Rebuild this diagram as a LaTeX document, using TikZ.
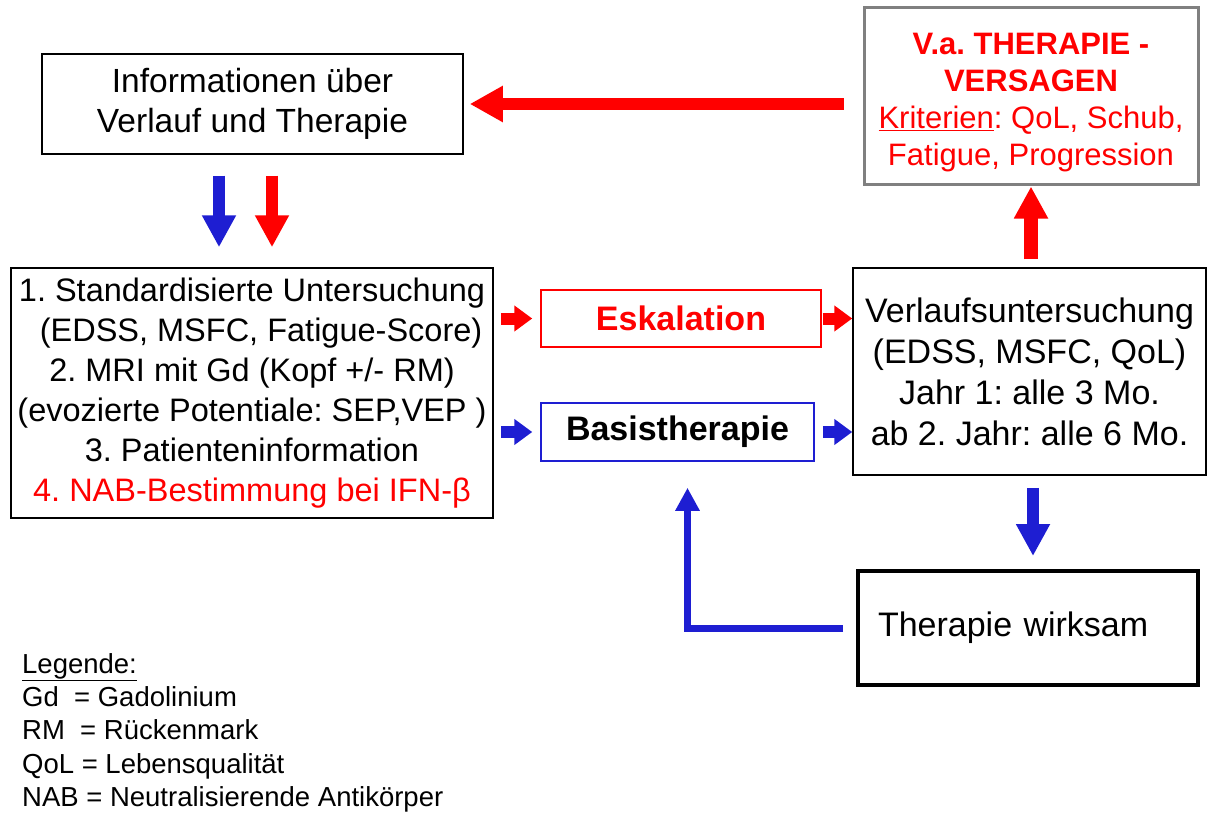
\documentclass[tikz,border=0pt]{standalone}
\usepackage{fontspec}
\setmainfont{Liberation Sans}
\usetikzlibrary{arrows.meta}
\definecolor{rot}{RGB}{255,0,0}
\definecolor{blau}{RGB}{30,30,210}
\definecolor{grau}{RGB}{128,128,128}
\frenchspacing

\begin{document}
\begin{tikzpicture}[x=1pt, y=-1pt,
        kasten/.style={shape=rectangle, draw=black, line width=1.5pt, align=center, inner sep=0pt,
            font=\fontsize{32.5}{40}\selectfont},
        grossrot/.style={draw=rot, line width=12pt, -{Triangle[width=34pt,length=33pt]}},
        runter/.style={line width=12pt, -{Triangle[width=32pt,length=32pt]}},
        klein/.style={line width=12pt, -{Triangle[width=25pt,length=18pt]}},
        haken/.style={draw=blau, line width=7pt, -{Triangle[width=23pt,length=23pt]}},
    ]
    \useasboundingbox (0,0) rectangle (1209,813);

    \node[kasten, minimum width=421pt, minimum height=100pt, font=\fontsize{33.5}{40}\selectfont] (info) at (252.5, 104)
        {Informationen über\\Verlauf und Therapie};
    \node[kasten, draw=grau, line width=3pt, minimum width=334pt, minimum height=177pt,
        font=\fontsize{31}{37}\selectfont, text=rot] (fehl) at (1031, 96.5)
        {\rule{0pt}{33pt}\textbf{V.a. THERAPIE -}\\\textbf{VERSAGEN}\\\underline{Kriterien}: QoL, Schub,\\Fatigue, Progression};
    \node[kasten, minimum width=482pt, minimum height=250pt] (links) at (252, 393)
        {1. Standardisierte Untersuchung\\
        \ \ (EDSS, MSFC, Fatigue-Score)\\
        2. MRI mit Gd (Kopf +/- RM)\\
        (evozierte Potentiale: SEP,VEP )\\
        3. Patienteninformation\\
        \textcolor{rot}{4. NAB-Bestimmung bei IFN-β}};
    \node[kasten, draw=rot, minimum width=280pt, minimum height=57pt, text=rot,
        font=\fontsize{34}{40}\selectfont\bfseries] (eskal) at (681, 318.5) {Eskalation};
    \node[kasten, draw=blau, minimum width=273pt, minimum height=58pt,
        font=\fontsize{34}{40}\selectfont\bfseries] (basis) at (677.5, 432) {Basistherapie};
    \node[kasten, minimum width=353pt, minimum height=207pt, font=\fontsize{34}{41}\selectfont] (verlauf) at (1029.5, 371.5)
        {Verlaufsuntersuchung\\(EDSS, MSFC, QoL)\\Jahr 1: alle 3 Mo.\\ab 2. Jahr: alle 6 Mo.};
    \node[kasten, line width=4pt, minimum width=340pt, minimum height=114pt, align=left,
        text width=300pt, inner xsep=20pt, font=\fontsize{34}{40}\selectfont] (wirksam) at (1028, 628) {Therapie wirksam};
    \node[anchor=north west, align=left, inner sep=0pt, font=\fontsize{27.5}{33.3}\selectfont] (legende) at (22, 653)
        {\underline{Legende:}\\Gd\ \ = Gadolinium\\RM\ \ = Rückenmark\\QoL = Lebensqualität\\NAB = Neutralisierende Antikörper};

    \draw[grossrot, shorten <=19pt, shorten >=6pt] (fehl.west |- info.east) -- (info.east);
    \draw[runter, draw=blau, shorten <=21pt, shorten >=20pt] ([xshift=-33.5pt]info.south) -- ([xshift=-33.5pt]info.south |- links.north);
    \draw[runter, draw=rot, shorten <=21pt, shorten >=20pt] ([xshift=19.5pt]info.south) -- ([xshift=19.5pt]info.south |- links.north);

    \draw[klein, draw=rot, shorten <=7pt, shorten >=8pt] (links.east |- eskal.west) -- (eskal.west);
    \draw[klein, draw=rot, shorten <=1pt] (eskal.east) -- (eskal.east -| verlauf.west);
    \draw[klein, draw=blau, shorten <=7pt, shorten >=8pt] (links.east |- basis.west) -- (basis.west);
    \draw[klein, draw=blau, shorten <=8pt] (basis.east) -- (basis.east -| verlauf.west);

    \draw[runter, draw=rot, line width=14pt, shorten <=8pt] ([xshift=1.5pt]verlauf.north) -- ([xshift=1.5pt]verlauf.north |- fehl.south);
    \draw[runter, draw=blau, shorten <=12pt, shorten >=13pt] ([xshift=3.5pt]verlauf.south) -- ([xshift=3.5pt]verlauf.south |- wirksam.north);
    \draw[haken] ([xshift=-13pt]wirksam.west) -| ([xshift=10pt,yshift=-26pt]basis.south);

\end{tikzpicture}
\end{document}
